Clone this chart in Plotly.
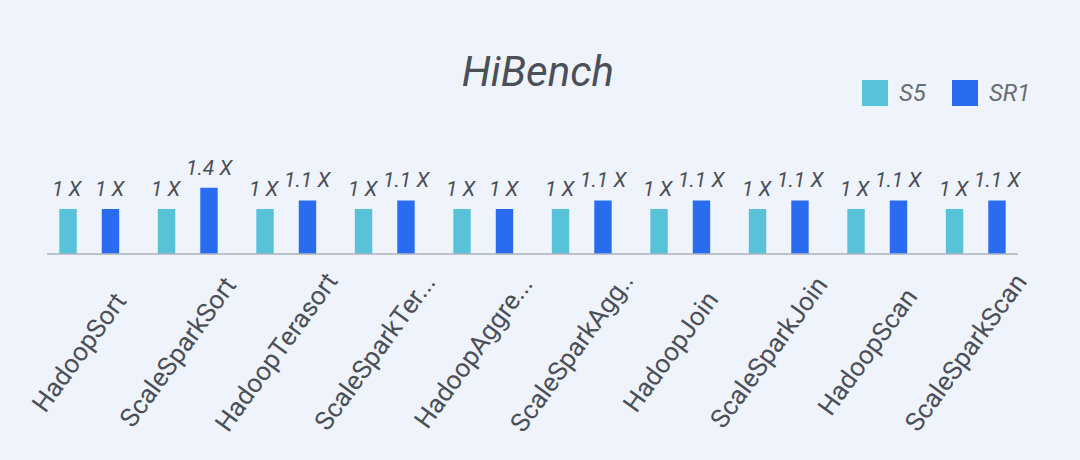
import plotly.graph_objects as go

# Data
benchmarks = ["HadoopSort", "ScaleSparkSort", "HadoopTerasort", "ScaleSparkTer...",
              "HadoopAggre...", "ScaleSparkAgg..", "HadoopJoin", "ScaleSparkJoin",
              "HadoopScan", "ScaleSparkScan"]
s5_values = [1.0, 1.0, 1.0, 1.0, 1.0, 1.0, 1.0, 1.0, 1.0, 1.0]
sr1_values = [1.0, 1.47, 1.19, 1.19, 1.0, 1.19, 1.19, 1.19, 1.19, 1.19]
s5_labels = ["1 X", "1 X", "1 X", "1 X", "1 X", "1 X", "1 X", "1 X", "1 X", "1 X"]
sr1_labels = ["1 X", "1.4 X", "1.1 X", "1.1 X", "1 X", "1.1 X", "1.1 X", "1.1 X", "1.1 X", "1.1 X"]
series_names = ["S5", "SR1"]

W, H = 1080, 460
ML, MR, MT, MB = 40, 55, 164, 206
BG = "#eff3fc"
TEXT = "#4b4f57"
COLORS = ["#58c3d8", "#2a6cf0"]
FONT = "Roboto"


def paper_x(px):
    return (px - ML) / (W - ML - MR)


def paper_y(py):
    return (H - MB - py) / (H - MT - MB)


fig = go.Figure()

for name, vals, color in zip(series_names, [s5_values, sr1_values], COLORS):
    fig.add_trace(go.Bar(
        x=benchmarks, y=vals, name=name,
        marker=dict(color=color, line=dict(width=0)),
        showlegend=False, hoverinfo="skip"
    ))

annotations = []

# value labels above bars
for vals, labels, shift in [(s5_values, s5_labels, -21.3), (sr1_values, sr1_labels, 21.3)]:
    for cat, v, lab in zip(benchmarks, vals, labels):
        annotations.append(dict(
            x=cat, y=v, xref="x", yref="y", text=lab, showarrow=False,
            xanchor="center", yanchor="bottom", xshift=shift, yshift=6,
            font=dict(family=FONT, size=21, color=TEXT, style="italic")
        ))

# rotated category labels
for cat in benchmarks:
    annotations.append(dict(
        x=cat, y=paper_y(352), xref="x", yref="paper", text=cat, showarrow=False,
        textangle=-54, xanchor="center", yanchor="middle", xshift=-10,
        font=dict(family=FONT, size=26, color=TEXT)
    ))

# manual legend
shapes = []
for name, color, sx in zip(series_names, COLORS, [862, 952]):
    shapes.append(dict(
        type="rect", xref="paper", yref="paper",
        x0=paper_x(sx), x1=paper_x(sx + 26), y0=paper_y(106), y1=paper_y(80),
        fillcolor=color, line=dict(width=0)
    ))
    annotations.append(dict(
        x=paper_x(sx + 35), y=paper_y(93), xref="paper", yref="paper", text=name,
        showarrow=False, xanchor="left", yanchor="middle",
        font=dict(family=FONT, size=24, color="#6a6d74", style="italic")
    ))

# category axis baseline
shapes.append(dict(
    type="line", xref="paper", yref="paper", x0=paper_x(47), x1=paper_x(1018),
    y0=0, y1=0, line=dict(color="#aeb2bc", width=1.6), layer="above"
))

fig.update_layout(
    width=W, height=H,
    margin=dict(l=ML, r=MR, t=MT, b=MB),
    paper_bgcolor=BG, plot_bgcolor=BG,
    barmode="group", bargap=0.138, bargroupgap=0.59,
    title=dict(
        text="HiBench", x=0.498, xanchor="center", y=1 - 71 / H, yanchor="middle",
        font=dict(family=FONT, size=42, color=TEXT, style="italic")
    ),
    annotations=annotations,
    shapes=shapes,
)

fig.update_xaxes(range=[-0.5, len(benchmarks) - 0.5], showticklabels=False,
                 showline=False, ticks="", showgrid=False, zeroline=False,
                 fixedrange=True)
fig.update_yaxes(range=[0, 2], visible=False, showgrid=False, zeroline=False,
                 fixedrange=True)

fig.write_html("out.html", config={"displayModeBar": False},
               post_script="document.body.style.margin='0';")
